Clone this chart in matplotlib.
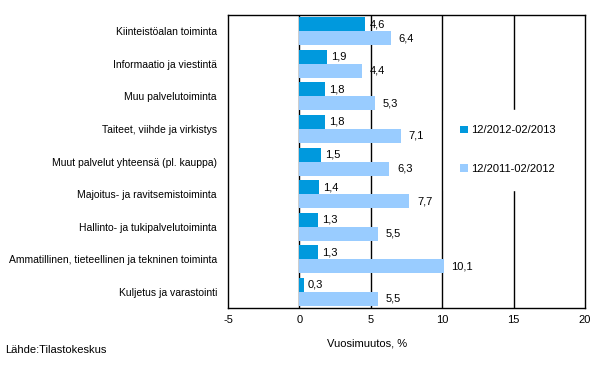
import matplotlib
matplotlib.use("Agg")
import matplotlib.pyplot as plt
import numpy as np

plt.rcParams['font.family'] = ['Liberation Sans', 'DejaVu Sans']

categories = [
    "Kiinteistöalan toiminta",
    "Informaatio ja viestintä",
    "Muu palvelutoiminta",
    "Taiteet, viihde ja virkistys",
    "Muut palvelut yhteensä (pl. kauppa)",
    "Majoitus- ja ravitsemistoiminta",
    "Hallinto- ja tukipalvelutoiminta",
    "Ammatillinen, tieteellinen ja tekninen toiminta",
    "Kuljetus ja varastointi",
]
series_2013 = [4.6, 1.9, 1.8, 1.8, 1.5, 1.4, 1.3, 1.3, 0.3]
series_2012 = [6.4, 4.4, 5.3, 7.1, 6.3, 7.7, 5.5, 10.1, 5.5]
label_2013 = "12/2012-02/2013"
label_2012 = "12/2011-02/2012"
xticks = [-5, 0, 5, 10, 15, 20]

dark = "#0099DD"
light = "#99CCFF"

fig = plt.figure(figsize=(6.0, 3.73), dpi=100)
ax = fig.add_axes([0.38, 0.174, 0.595, 0.786])

n = len(categories)
y = np.arange(n)
h = 0.43
ax.barh(y - h / 2, series_2013, height=h, color=dark, label=label_2013, zorder=3)
ax.barh(y + h / 2, series_2012, height=h, color=light, label=label_2012, zorder=3)

def fmt(v):
    return f"{v:.1f}".replace(".", ",")

for i, (a, b) in enumerate(zip(series_2013, series_2012)):
    ax.annotate(fmt(a), (a, i - h / 2), xytext=(3, 0), textcoords="offset points",
                va="center", ha="left", fontsize=8, zorder=4)
    ax.annotate(fmt(b), (b, i + h / 2), xytext=(5.5, 0), textcoords="offset points",
                va="center", ha="left", fontsize=8, zorder=4)

ax.set_xlim(-5, 20)
ax.set_ylim(n - 0.5, -0.5)
ax.set_xticks(xticks)
ax.set_xticklabels([str(t) for t in xticks], fontsize=8)
ax.set_yticks(y)
ax.set_yticklabels(categories, fontsize=7.5)
ax.tick_params(axis='both', length=0, pad=5)
ax.tick_params(axis='y', pad=8)

for xv in [0, 5, 10, 15]:
    ax.axvline(xv, color="black", lw=1, zorder=1)

for s in ax.spines.values():
    s.set_color("black")
    s.set_linewidth(1)

leg = ax.legend(loc="center left", bbox_to_anchor=(0.606, 0.54), frameon=True,
                fontsize=8, handlelength=0.7, handleheight=0.7, handletextpad=0.3,
                labelspacing=2.6, borderpad=1.4, borderaxespad=0)
leg.get_frame().set_edgecolor("white")
leg.get_frame().set_facecolor("white")
leg.get_frame().set_alpha(1)
leg.get_frame().set_boxstyle("square", pad=0)
leg.set_zorder(5)

fig.text(367 / 600, 1 - 343 / 373, "Vuosimuutos, %", ha="center", va="center", fontsize=8)
fig.text(5 / 600, 1 - 350 / 373, "Lähde:Tilastokeskus", ha="left", va="center", fontsize=8)

fig.savefig("out.png", dpi=100)
